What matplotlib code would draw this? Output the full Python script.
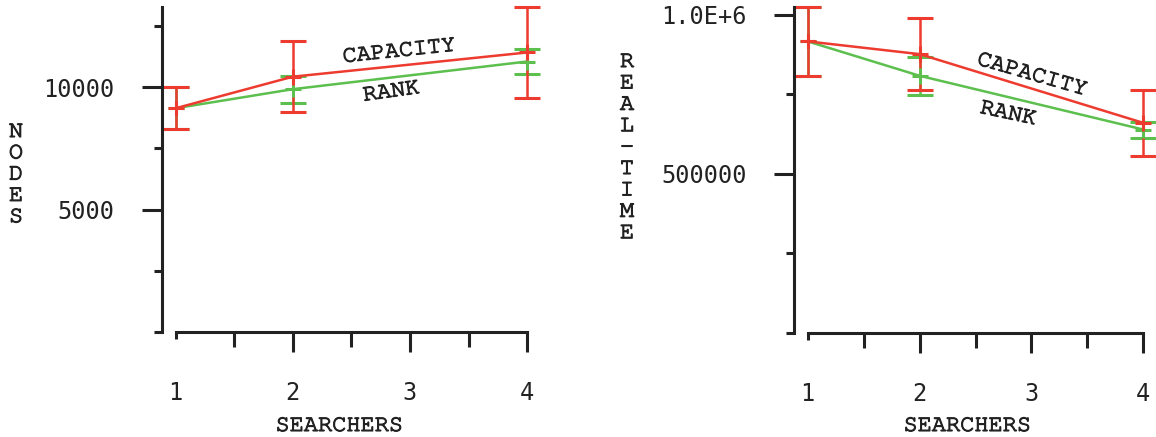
import matplotlib
matplotlib.use('Agg')
import matplotlib.pyplot as plt
from matplotlib import font_manager, patheffects

# typewriter face (upright, regular weight) for axis names and curve labels
TYPEWRITER = ['Courier New', 'Courier', 'Nimbus Mono PS', 'Nimbus Mono L', 'FreeMono', 'Liberation Mono']
fonts = [f for f in font_manager.fontManager.ttflist
         if f.name in TYPEWRITER and f.style == 'normal' and f.weight in (400, 'normal', 'regular')]
fonts.sort(key=lambda f: TYPEWRITER.index(f.name))
LABEL_PROPS = (font_manager.FontProperties(fname=fonts[0].fname, size=17) if fonts
               else font_manager.FontProperties(family='DejaVu Sans Mono', size=17))
plt.rcParams['font.family'] = 'DejaVu Sans Mono'

INK = '#222222'
RED = '#ee3b30'
GREEN = '#5cbf4e'
THICKEN = [patheffects.withStroke(linewidth=0.8, foreground=INK)]

searchers = [1, 2, 4]

nodes_capacity = [9140, 10430, 11420]
nodes_capacity_err = [860, 1460, 1870]
nodes_rank = [9140, 9920, 11050]
nodes_rank_err = [860, 545, 495]

time_capacity = [916000, 876000, 660000]
time_capacity_err = [109000, 113000, 104000]
time_rank = [916000, 808000, 639000]
time_rank_err = [109000, 59000, 25000]

x_ticks = [1, 2, 3, 4]
x_minor = [1.5, 2.5, 3.5]
nodes_major = [5000, 10000]
nodes_major_labels = ['5000', '10000']
nodes_minor = [0, 2500, 7500, 12500]
time_major = [500000, 1000000]
time_major_labels = ['500000', '1.0E+6']
time_minor = [0, 250000, 750000]

W, H = 1156, 437
fig = plt.figure(figsize=(W / 100, H / 100), dpi=100)
fig.patch.set_facecolor('white')


def axes_px(left, top, right, bottom):
    return fig.add_axes([left / W, 1 - bottom / H, (right - left) / W, (bottom - top) / H])


def draw_series(ax, y, err, color):
    ax.errorbar(searchers, y, yerr=err, color=color, lw=1.8, marker='+', ms=11, mew=2.2,
                capsize=9.4, capthick=1.8, elinewidth=1.8, clip_on=False)


def style_axes(ax, major, major_labels, minor):
    for side in ('top', 'right'):
        ax.spines[side].set_visible(False)
    for side in ('left', 'bottom'):
        ax.spines[side].set_linewidth(2.2)
        ax.spines[side].set_color(INK)
    ax.spines['bottom'].set_bounds(1, 4)
    ax.set_xticks(x_ticks, [str(v) for v in x_ticks])
    ax.set_xticks(x_minor, minor=True)
    ax.set_yticks(major, major_labels)
    ax.set_yticks(minor, minor=True)
    ax.tick_params(which='both', direction='out', width=2.2, color=INK,
                   labelsize=17, labelcolor=INK)
    ax.tick_params(axis='x', which='major', length=14.4, pad=21)
    ax.tick_params(axis='x', which='minor', length=10.8)
    ax.tick_params(axis='y', which='major', length=14.4, pad=19.5)
    ax.tick_params(axis='y', which='minor', length=5.5)
    # the first searcher tick is drawn short
    ax.xaxis.get_major_ticks()[0].tick1line.set_markersize(5)


def label(target, x, y, text, **kw):
    return target.text(x, y, text, ha='center', va='center', fontproperties=LABEL_PROPS,
                       color=INK, path_effects=THICKEN, **kw)


def stacked_label(x, y0, text, pitch):
    for i, ch in enumerate(text):
        label(fig, x / W, 1 - (y0 + i * pitch) / H, ch)


# left panel: nodes expanded
ax1 = axes_px(161.7, 6.7, 544.7, 332)
draw_series(ax1, nodes_rank, nodes_rank_err, GREEN)
draw_series(ax1, nodes_capacity, nodes_capacity_err, RED)
ax1.set_xlim(0.882, 4.15)
ax1.set_ylim(0, max(v + e for v, e in zip(nodes_capacity, nodes_capacity_err)))
style_axes(ax1, nodes_major, nodes_major_labels, nodes_minor)
label(ax1, 2.907, 11463, 'CAPACITY', rotation=6, rotation_mode='anchor')
label(ax1, 2.839, 9808, 'RANK', rotation=8, rotation_mode='anchor')

# right panel: real time
ax2 = axes_px(793.5, 6.7, 1156, 333)
draw_series(ax2, time_rank, time_rank_err, GREEN)
draw_series(ax2, time_capacity, time_capacity_err, RED)
ax2.set_xlim(0.873, 4.113)
ax2.set_ylim(0, max(v + e for v, e in zip(time_capacity, time_capacity_err)))
style_axes(ax2, time_major, time_major_labels, time_minor)
label(ax2, 3.004, 811000, 'CAPACITY', rotation=-16, rotation_mode='anchor')
label(ax2, 2.79, 689000, 'RANK', rotation=-12, rotation_mode='anchor')

stacked_label(16, 132, 'NODES', 21.3)
stacked_label(627, 62, 'REAL-TIME', 21.4)
label(fig, 339 / W, 1 - 426 / H, 'SEARCHERS')
label(fig, 967 / W, 1 - 426 / H, 'SEARCHERS')

fig.savefig('out.png', dpi=100, facecolor='white')
